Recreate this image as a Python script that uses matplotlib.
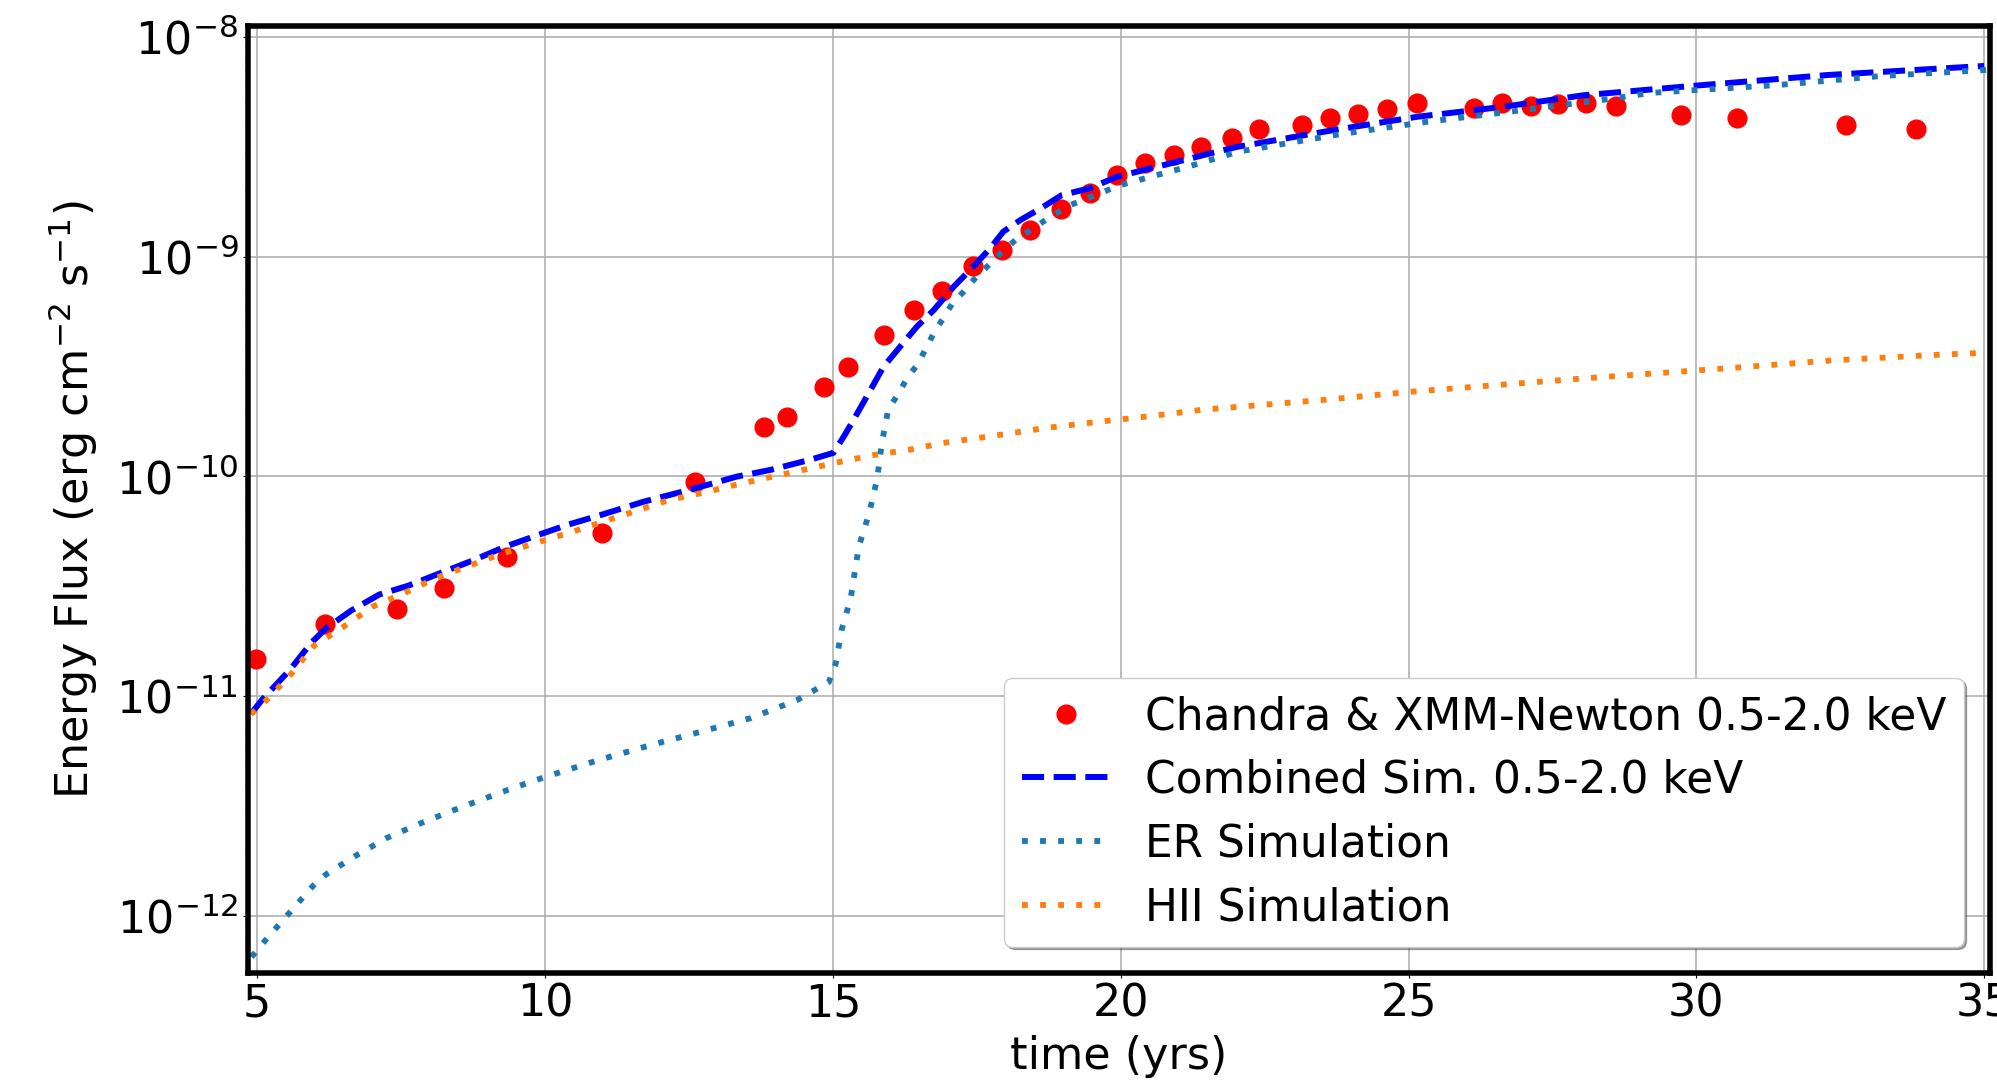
import numpy as np
import matplotlib
matplotlib.use("Agg")
import matplotlib.pyplot as plt

# observed flux (Chandra & XMM-Newton, 0.5-2.0 keV)
obs_t = [4.98, 6.18, 7.43, 8.24, 9.34, 10.99, 12.61, 13.81, 14.20, 14.85,
         15.26, 15.89, 16.40, 16.90, 17.44, 17.93, 18.42, 18.97, 19.47, 19.93,
         20.43, 20.92, 21.39, 21.94, 22.40, 23.14, 23.64, 24.13, 24.62, 25.14,
         26.13, 26.63, 27.12, 27.60, 28.09, 28.60, 29.74, 30.70, 32.59, 33.82]
obs_f = [1.47e-11, 2.13e-11, 2.49e-11, 3.10e-11, 4.31e-11, 5.55e-11, 9.4e-11, 1.68e-10, 1.87e-10, 2.55e-10,
         3.14e-10, 4.41e-10, 5.71e-10, 7.0e-10, 9.1e-10, 1.07e-9, 1.32e-9, 1.64e-9, 1.94e-9, 2.35e-9,
         2.66e-9, 2.90e-9, 3.15e-9, 3.46e-9, 3.80e-9, 3.97e-9, 4.26e-9, 4.46e-9, 4.69e-9, 5.03e-9,
         4.73e-9, 5.03e-9, 4.86e-9, 4.95e-9, 5.03e-9, 4.86e-9, 4.40e-9, 4.30e-9, 3.98e-9, 3.82e-9]

# combined simulation
comb_t = [4.89, 5.08, 5.57, 5.94, 6.19, 6.63, 7.12, 7.62, 8.18, 8.74, 9.30, 9.85, 10.38,
          10.94, 11.71, 12.61, 13.33, 13.91, 14.60, 15.01, 15.19, 15.36, 15.62, 15.88,
          16.17, 16.46, 16.75, 17.10, 17.44, 17.73, 17.96, 18.26, 18.61, 18.98, 19.47,
          19.93, 20.51, 21.09, 21.55, 22.02, 23.70, 25.14, 26.64, 28.04, 29.90, 32.27, 35.0]
comb_f = [8.3e-12, 9.6e-12, 1.32e-11, 1.75e-11, 2.03e-11, 2.45e-11, 2.90e-11, 3.18e-11, 3.63e-11,
          4.14e-11, 4.78e-11, 5.38e-11, 6.01e-11, 6.64e-11, 7.67e-11, 8.83e-11, 9.98e-11, 1.07e-10,
          1.19e-10, 1.28e-10, 1.52e-10, 1.81e-10, 2.39e-10, 3.16e-10, 3.90e-10, 4.81e-10, 5.71e-10,
          7.31e-10, 9.02e-10, 1.09e-9, 1.30e-9, 1.47e-9, 1.66e-9, 1.91e-9, 2.05e-9, 2.31e-9, 2.52e-9,
          2.75e-9, 2.95e-9, 3.16e-9, 3.77e-9, 4.33e-9, 4.81e-9, 5.43e-9, 5.98e-9, 6.71e-9, 7.38e-9]

# equatorial ring simulation
er_t = [4.90, 5.17, 5.57, 5.97, 6.19, 6.70, 7.23, 7.81, 8.36, 8.92, 9.48, 10.03, 10.90, 11.81,
        12.71, 13.57, 14.38, 14.93, 15.05, 15.15, 15.31, 15.45, 15.63, 15.77, 15.85, 15.96,
        16.14, 16.29, 16.46, 16.61, 16.75, 16.91, 17.07, 17.27, 17.47, 17.68, 17.91, 18.17,
        18.43, 18.78, 19.13, 19.65, 20.00, 20.57, 21.15, 22.05, 23.81, 25.32, 26.88, 28.44,
        29.23, 31.40, 33.20, 35.05]
er_f = [6.5e-13, 7.9e-13, 1.04e-12, 1.37e-12, 1.54e-12, 1.87e-12, 2.25e-12, 2.62e-12, 2.99e-12,
        3.40e-12, 3.85e-12, 4.31e-12, 5.09e-12, 5.96e-12, 6.89e-12, 7.94e-12, 9.6e-12, 1.16e-11,
        1.41e-11, 2.0e-11, 2.8e-11, 4.8e-11, 6.8e-11, 9.8e-11, 1.42e-10, 2.01e-10, 2.39e-10,
        2.80e-10, 3.21e-10, 3.79e-10, 4.48e-10, 5.21e-10, 6.10e-10, 6.93e-10, 7.98e-10, 9.02e-10,
        1.035e-9, 1.19e-9, 1.32e-9, 1.52e-9, 1.72e-9, 1.95e-9, 2.12e-9, 2.33e-9, 2.56e-9, 3.01e-9,
        3.61e-9, 4.11e-9, 4.61e-9, 5.20e-9, 5.57e-9, 6.04e-9, 6.64e-9, 7.08e-9]

# HII region simulation
hii_t = [4.89, 5.20, 5.60, 5.98, 6.50, 7.00, 7.56, 8.12, 8.68, 9.23, 9.85, 10.41, 11.28, 12.16,
         12.72, 13.30, 13.90, 14.48, 15.09, 15.70, 16.31, 16.92, 17.79, 18.69, 19.59, 20.51,
         21.41, 23.53, 25.06, 26.57, 28.10, 30.50, 32.33, 34.12, 35.07]
hii_f = [8.28e-12, 9.8e-12, 1.27e-11, 1.69e-11, 2.07e-11, 2.55e-11, 2.95e-11, 3.46e-11, 3.92e-11,
         4.43e-11, 4.99e-11, 5.53e-11, 6.56e-11, 7.82e-11, 8.39e-11, 9.14e-11, 9.91e-11, 1.07e-10,
         1.16e-10, 1.25e-10, 1.32e-10, 1.42e-10, 1.53e-10, 1.66e-10, 1.77e-10, 1.88e-10, 2.01e-10,
         2.23e-10, 2.43e-10, 2.61e-10, 2.80e-10, 3.10e-10, 3.37e-10, 3.57e-10, 3.66e-10]

fs = 32
plt.rcParams['font.size'] = fs

fig = plt.figure(figsize=(19.97, 10.83), dpi=100)
ax = fig.add_axes([0.1242, 0.1016, 0.8723, 0.8744])

ax.semilogy(obs_t, obs_f, 'o', color='red', ms=13.5, label='Chandra & XMM-Newton 0.5-2.0 keV')
ax.semilogy(comb_t, comb_f, '--', color='blue', lw=4.3, label='Combined Sim. 0.5-2.0 keV')
ax.semilogy(er_t, er_f, ':', color='tab:blue', lw=4.2, dashes=(1, 2.1), label='ER Simulation')
ax.semilogy(hii_t, hii_f, ':', color='tab:orange', lw=4.2, dashes=(1, 2.1), label='HII Simulation')

ax.set_xlim(4.84, 35.1)
ax.set_ylim(10**-12.26, 10**-7.95)
ax.set_xticks([5, 10, 15, 20, 25, 30, 35])
ax.grid(True, which='major', color='#b0b0b0', lw=1.2)
for s in ax.spines.values():
    s.set_linewidth(4)

ax.set_xlabel('time (yrs)', labelpad=7)
ax.set_ylabel(r'Energy Flux (erg cm$^{-2}$ s$^{-1}$)', labelpad=11)

ax.legend(loc='lower right', shadow=True, fontsize=31.6, labelspacing=0.47,
          borderaxespad=0.6, handlelength=2.0)

fig.savefig('out.png', dpi=100)
